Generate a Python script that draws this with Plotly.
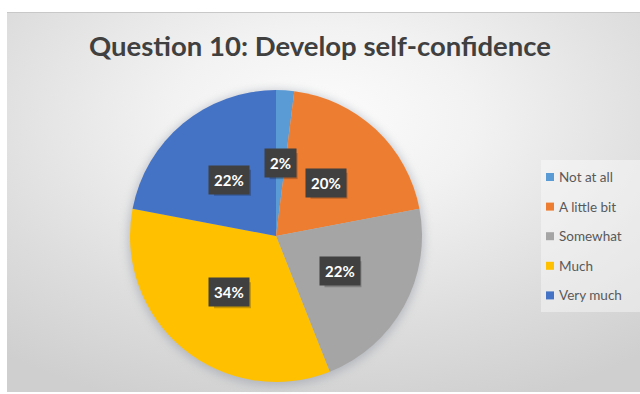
import base64
import math
import plotly.graph_objects as go

# Survey responses for question 10
categories = ["Not at all", "A little bit", "Somewhat", "Much", "Very much"]
shares = [2, 20, 22, 34, 22]
colors = ["#5B9BD5", "#ED7D31", "#A5A5A5", "#FFC000", "#4472C4"]
title_text = "Question 10: Develop self-confidence"

W, H = 640, 394
FONT = "Lato"

# pie placement in pixels
PIE_CX, PIE_CY, PIE_R = 276, 236, 146


def px(x):
    return x / W


def py(y):
    return 1 - y / H


# Chart-area background: radial gradient with a soft shadow behind the pie
svg = f"""<svg xmlns='http://www.w3.org/2000/svg' width='{W}' height='{H}' viewBox='0 0 {W} {H}'>
<defs>
<radialGradient id='g' cx='0.5' cy='0.28' r='0.8' gradientUnits='objectBoundingBox'>
<stop offset='0' stop-color='#fcfcfc'/>
<stop offset='0.3' stop-color='#f2f2f2'/>
<stop offset='0.7' stop-color='#dddddd'/>
<stop offset='1' stop-color='#cfcfcf'/>
</radialGradient>
<filter id='b' x='-30%' y='-30%' width='160%' height='160%'><feGaussianBlur stdDeviation='5'/></filter>
</defs>
<rect x='0' y='0' width='{W}' height='{H}' fill='#ffffff'/>
<rect x='7' y='12' width='{W-7}' height='380' fill='url(#g)'/>
<line x1='7' y1='12.5' x2='{W}' y2='12.5' stroke='#c8c8c8' stroke-width='1'/>
<circle cx='{PIE_CX}' cy='{PIE_CY+2}' r='{PIE_R+2}' fill='#8f96a3' opacity='0.5' filter='url(#b)'/>
</svg>"""
bg_src = "data:image/svg+xml;base64," + base64.b64encode(svg.encode()).decode()

fig = go.Figure()
fig.add_trace(go.Pie(
    labels=categories,
    values=shares,
    sort=False,
    direction="clockwise",
    rotation=0,
    marker=dict(colors=colors, line=dict(width=0)),
    textinfo="none",
    hoverinfo="label+percent",
    showlegend=False,
    domain=dict(x=[px(PIE_CX - PIE_R), px(PIE_CX + PIE_R)],
                y=[py(PIE_CY + PIE_R), py(PIE_CY - PIE_R)]),
))

annotations = []
shapes = []

# percentage labels in dark boxes at the middle of each slice
total = sum(shares)
cum = 0
for v in shares:
    mid = (cum + v / 2) / total * 2 * math.pi
    cum += v
    lr = PIE_R * 0.5
    lx = PIE_CX + lr * math.sin(mid)
    ly = PIE_CY - lr * math.cos(mid)
    label = f"{round(v / total * 100)}%"
    # drop shadow behind the label box
    half_w = 4.5 * len(label) + 5
    shapes.append(dict(type="rect", xref="paper", yref="paper",
                       x0=px(lx - half_w + 3), x1=px(lx + half_w + 3),
                       y0=py(ly + 13 + 3), y1=py(ly - 13 + 3),
                       fillcolor="rgba(0,0,0,0.22)", line=dict(width=0)))
    annotations.append(dict(
        x=px(lx), y=py(ly), xref="paper", yref="paper", showarrow=False,
        xanchor="center", yanchor="middle",
        text=f"<b>{label}</b>", font=dict(family=FONT, size=15, color="#ffffff"),
        bgcolor="#404040", borderpad=5,
    ))

# legend box and entries
LEG_X0, LEG_Y0, LEG_Y1 = 541, 160, 312
shapes.append(dict(type="rect", xref="paper", yref="paper",
                   x0=px(LEG_X0), x1=1.0, y0=py(LEG_Y1), y1=py(LEG_Y0),
                   fillcolor="rgba(255,255,255,0.4)", line=dict(width=0),
                   layer="below"))
for i, (name, c) in enumerate(zip(categories, colors)):
    iy = 177 + i * 29.6
    shapes.append(dict(type="rect", xref="paper", yref="paper",
                       x0=px(546), x1=px(554), y0=py(iy + 4), y1=py(iy - 4),
                       fillcolor=c, line=dict(width=0)))
    annotations.append(dict(
        x=px(557), y=py(iy), xref="paper", yref="paper", showarrow=False,
        xanchor="left", yanchor="middle", text=name,
        font=dict(family=FONT, size=13.5, color="#595959"),
    ))

fig.update_layout(
    width=W, height=H,
    margin=dict(l=0, r=0, t=0, b=0),
    paper_bgcolor="#ffffff",
    title=dict(text=f"<b>{title_text}</b>", x=0.5, xanchor="center",
               y=py(46), yanchor="middle", xref="paper", yref="paper",
               font=dict(family=FONT, size=27.5, color="#404040")),
    images=[dict(source=bg_src, xref="paper", yref="paper", x=0, y=1,
                 sizex=1, sizey=1, xanchor="left", yanchor="top",
                 sizing="stretch", layer="below")],
    annotations=annotations,
    shapes=shapes,
)

fig.write_html("out.html")
